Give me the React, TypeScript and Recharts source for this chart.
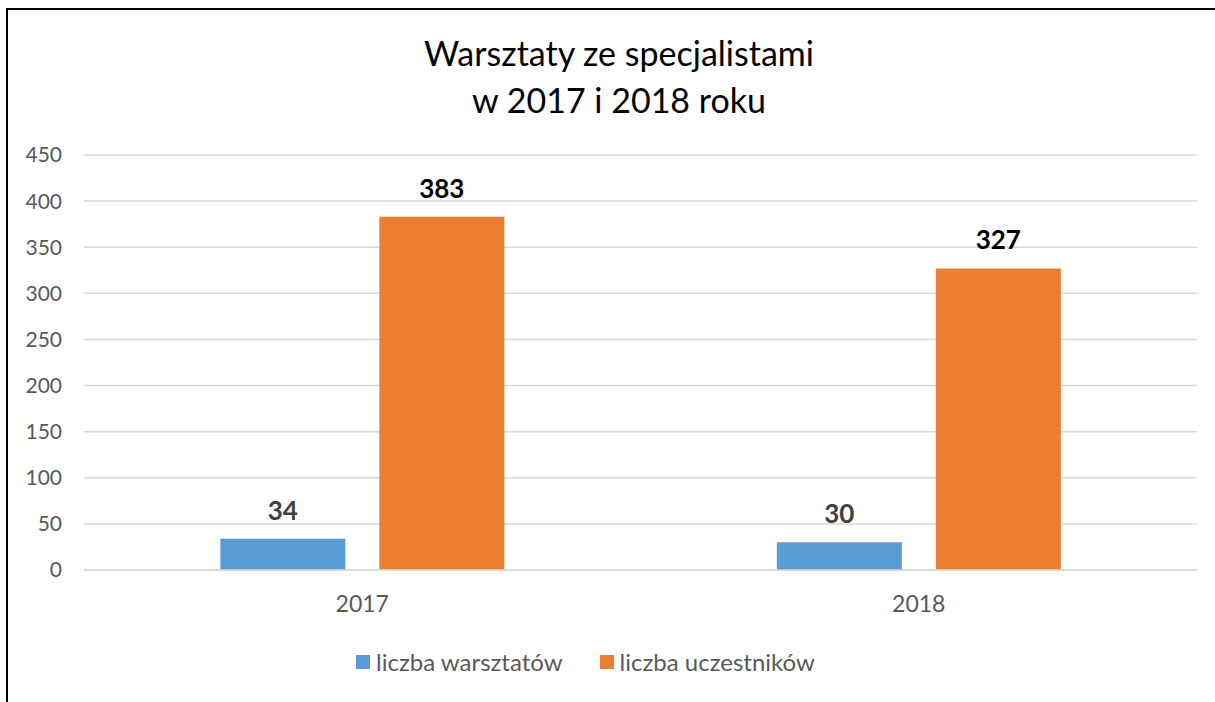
import { Bar, BarChart, CartesianGrid, LabelList, Legend, XAxis, YAxis } from "recharts";

const years = ["2017", "2018"];
const workshops = [34, 30];
const participants = [383, 327];
const yTicks = [0, 50, 100, 150, 200, 250, 300, 350, 400, 450];

const data = years.map((year, i) => ({
  year,
  warsztaty: workshops[i],
  uczestnicy: participants[i],
}));

const FONT = "Lato, 'Open Sans', sans-serif";

function ChartLegend() {
  const items = [
    { label: "liczba warsztatów", color: "#5B9BD5" },
    { label: "liczba uczestników", color: "#ED7D31" },
  ];
  return (
    <div
      style={{
        display: "flex",
        justifyContent: "center",
        gap: 37,
        fontFamily: FONT,
        paddingRight: 34,
        paddingTop: 4,
      }}
    >
      {items.map((it) => (
        <div key={it.label} style={{ display: "flex", alignItems: "center", gap: 6 }}>
          <span style={{ width: 14, height: 14, background: it.color, display: "inline-block" }} />
          <span style={{ fontSize: 24, color: "#595959" }}>{it.label}</span>
        </div>
      ))}
    </div>
  );
}

export default function App() {
  return (
    <div
      style={{
        position: "absolute",
        left: 6,
        top: 8,
        width: 1240,
        height: 720,
        border: "2px solid #000",
        background: "#fff",
      }}
    >
      <div
        style={{
          position: "absolute",
          left: 0,
          top: 19,
          width: 1222,
          textAlign: "center",
          fontFamily: FONT,
          fontSize: 34,
          lineHeight: "47px",
          color: "#000",
        }}
      >
        Warsztaty ze specjalistami
        <br />w 2017 i 2018 roku
      </div>
      <BarChart
        width={1209}
        height={692}
        data={data}
        barGap={34}
        barCategoryGap="24.5%"
        margin={{ top: 145, right: 20, bottom: 19, left: 0 }}
      >
        <CartesianGrid vertical={false} stroke="#d9d9d9" strokeWidth={1.5} />
        <XAxis
          dataKey="year"
          axisLine={{ stroke: "#d9d9d9", strokeWidth: 1.5 }}
          tickLine={false}
          tickSize={0}
          tickMargin={26}
          height={73}
          tick={{ fill: "#595959", fontSize: 23, fontFamily: FONT }}
        />
        <YAxis
          domain={[0, 450]}
          ticks={yTicks}
          axisLine={false}
          tickLine={false}
          tickSize={0}
          tickMargin={22}
          width={76}
          tick={{ fill: "#595959", fontSize: 21, fontFamily: FONT }}
        />
        <Legend verticalAlign="bottom" height={40} content={<ChartLegend />} />
        <Bar dataKey="warsztaty" name="liczba warsztatów" fill="#5B9BD5" isAnimationActive={false}>
          <LabelList
            dataKey="warsztaty"
            position="top"
            offset={19}
            fill="#404040"
            fontSize={26}
            fontWeight={700}
            fontFamily={FONT}
          />
        </Bar>
        <Bar dataKey="uczestnicy" name="liczba uczestników" fill="#ED7D31" isAnimationActive={false}>
          <LabelList
            dataKey="uczestnicy"
            position="top"
            offset={19}
            fill="#000"
            fontSize={26}
            fontWeight={700}
            fontFamily={FONT}
          />
        </Bar>
      </BarChart>
    </div>
  );
}
